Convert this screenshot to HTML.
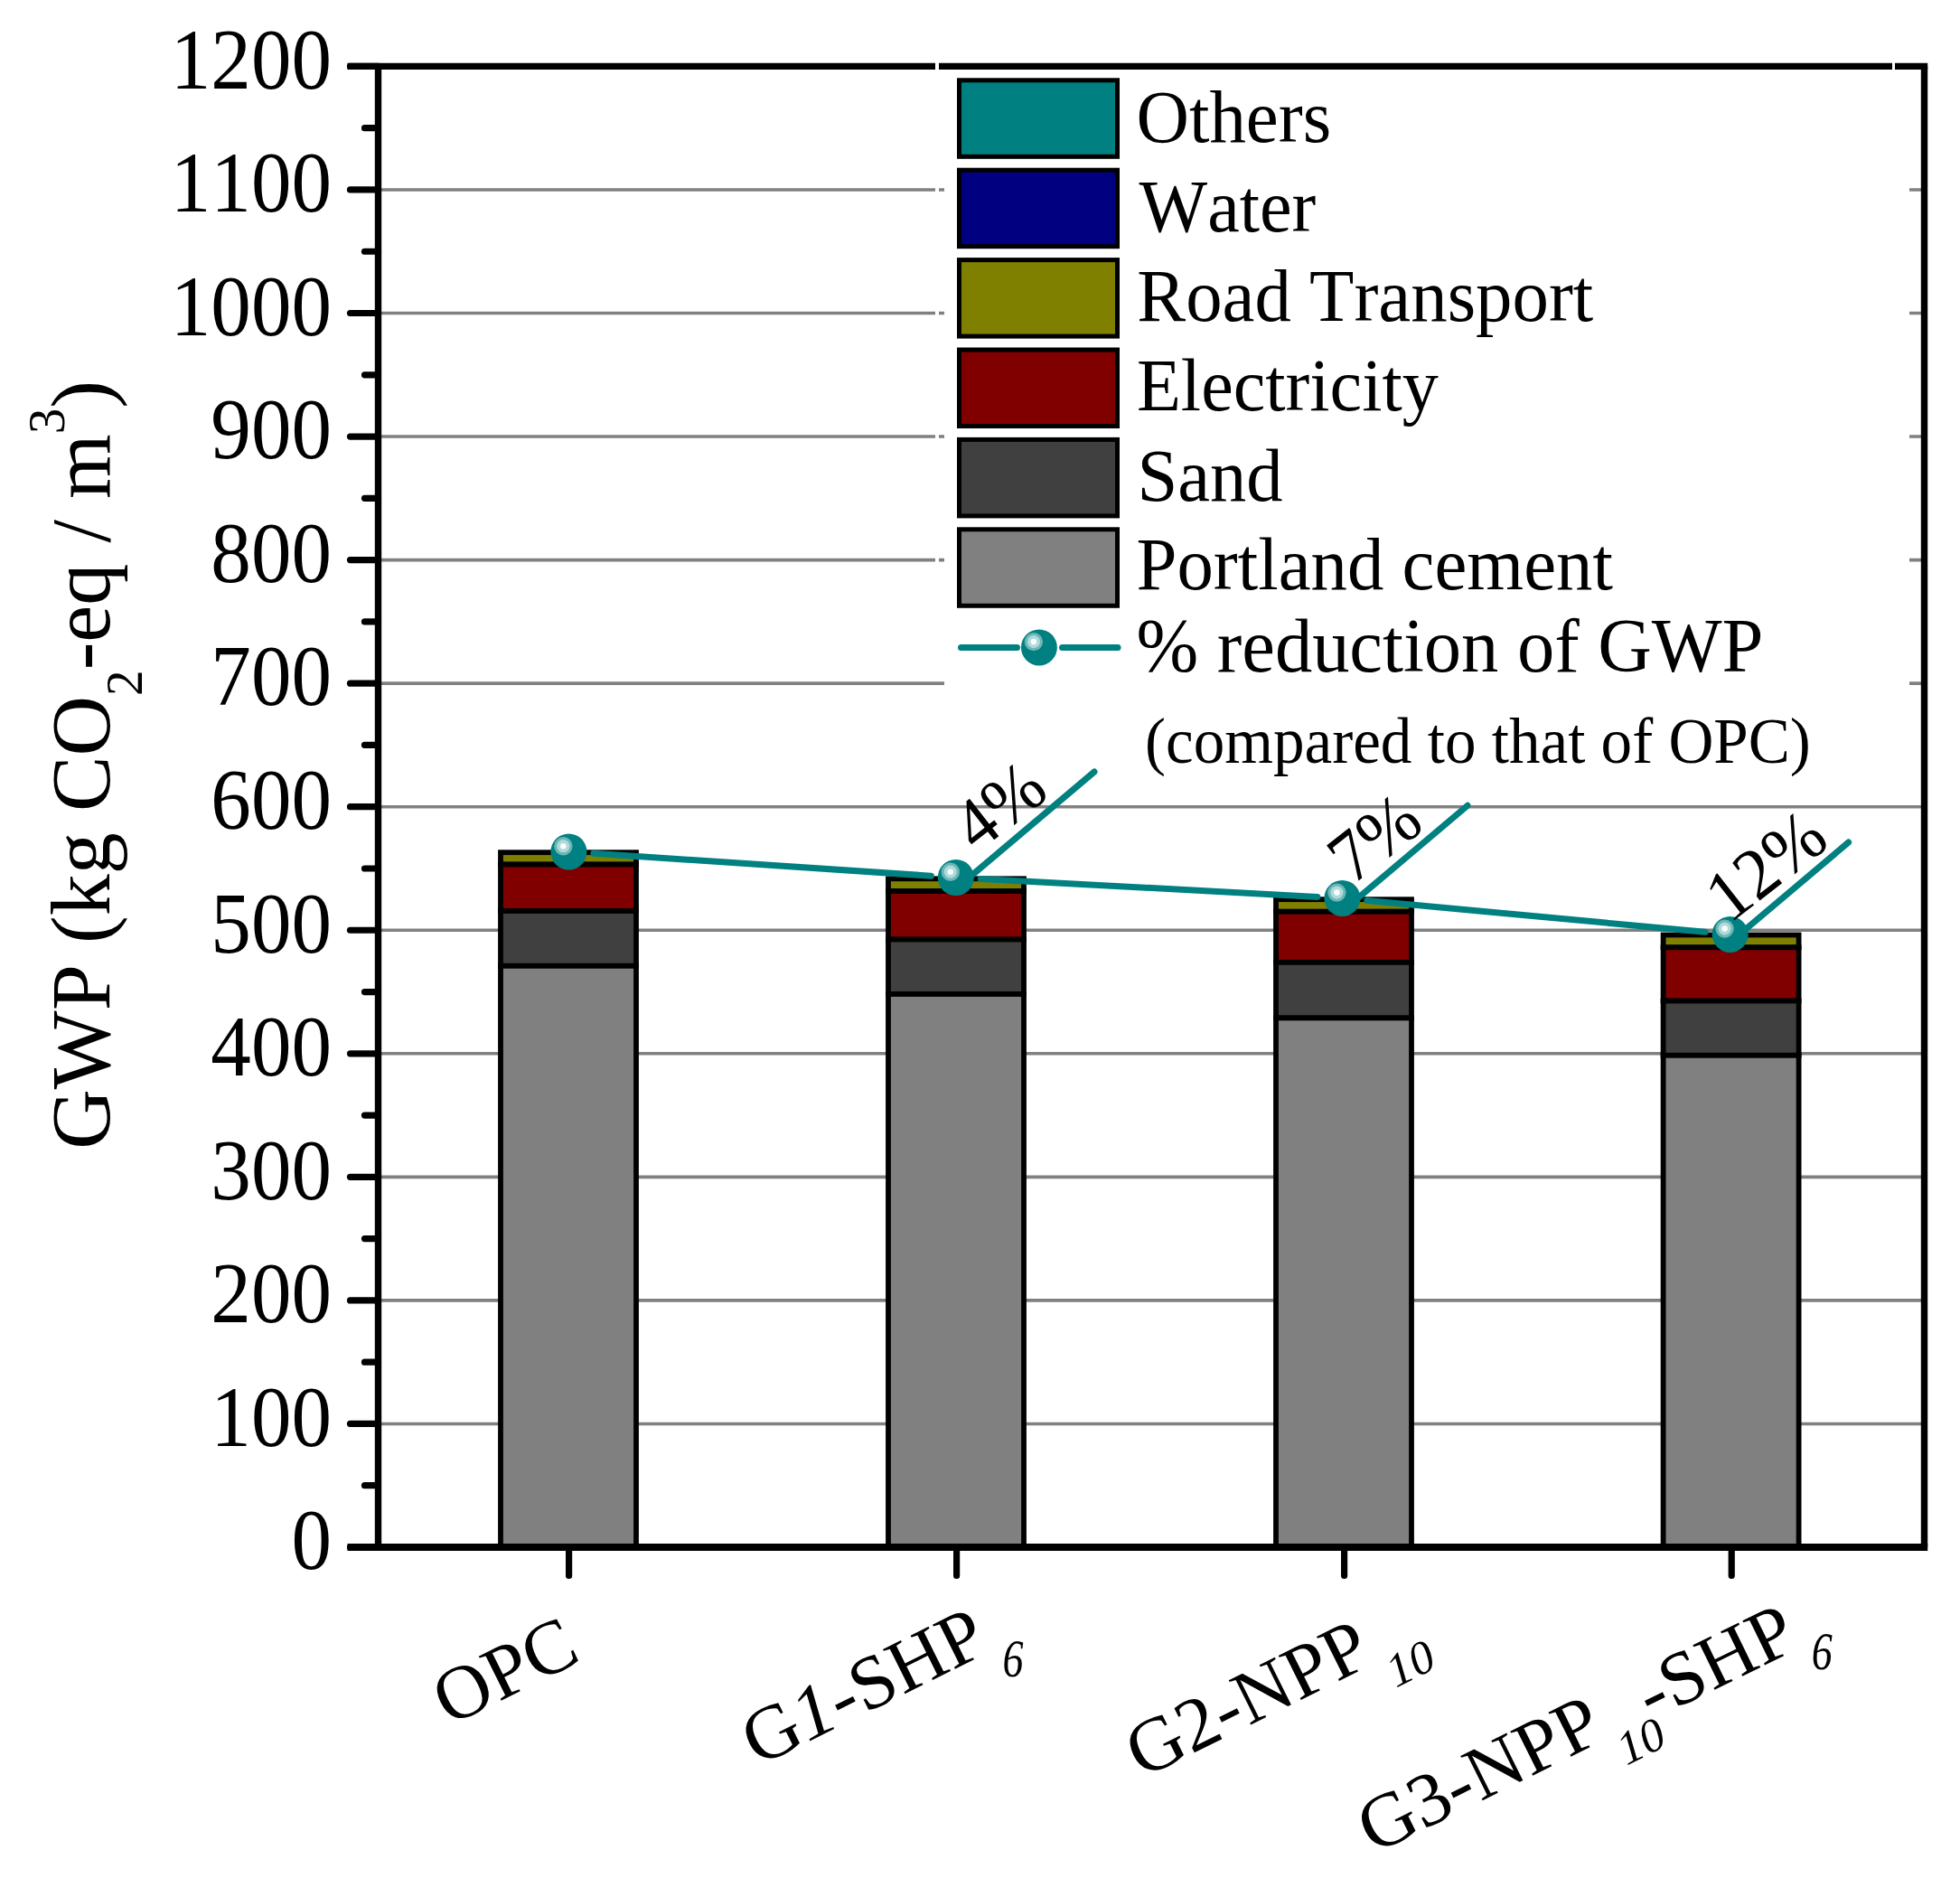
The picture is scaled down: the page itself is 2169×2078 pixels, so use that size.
<!DOCTYPE html>
<html lang="en"><head><meta charset="utf-8"><title>GWP chart</title>
<style>html,body{margin:0;padding:0;background:#fff}body{width:2169px;height:2078px;overflow:hidden}svg{display:block}text{font-family:"Liberation Serif",serif;fill:#000;font-kerning:none}</style></head><body>
<svg width="2169" height="2078" viewBox="0 0 2169 2078">
<rect x="0" y="0" width="2169" height="2078" fill="#fff"/>
<g stroke="#808080" stroke-width="3.6">
<line x1="418.5" y1="1575.45" x2="2129.5" y2="1575.45"/>
<line x1="418.5" y1="1438.90" x2="2129.5" y2="1438.90"/>
<line x1="418.5" y1="1302.35" x2="2129.5" y2="1302.35"/>
<line x1="418.5" y1="1165.80" x2="2129.5" y2="1165.80"/>
<line x1="418.5" y1="1029.25" x2="2129.5" y2="1029.25"/>
<line x1="418.5" y1="892.70" x2="2129.5" y2="892.70"/>
<line x1="418.5" y1="756.15" x2="2129.5" y2="756.15"/>
<line x1="418.5" y1="619.60" x2="2129.5" y2="619.60"/>
<line x1="418.5" y1="483.05" x2="2129.5" y2="483.05"/>
<line x1="418.5" y1="346.50" x2="2129.5" y2="346.50"/>
<line x1="418.5" y1="209.95" x2="2129.5" y2="209.95"/>
</g>
<rect x="1045" y="77" width="1068" height="725" fill="#fff"/>
<g stroke="#000" stroke-width="5.8" stroke-linejoin="miter">
<rect x="554.0" y="943.2" width="150.0" height="13.3" fill="#808000"/>
<rect x="554.0" y="956.5" width="150.0" height="51.5" fill="#800000"/>
<rect x="554.0" y="1008.0" width="150.0" height="60.8" fill="#404040"/>
<rect x="554.0" y="1068.8" width="150.0" height="643.2" fill="#808080"/>
<rect x="983.0" y="972.3" width="150.0" height="13.7" fill="#808000"/>
<rect x="983.0" y="986.0" width="150.0" height="53.5" fill="#800000"/>
<rect x="983.0" y="1039.5" width="150.0" height="60.5" fill="#404040"/>
<rect x="983.0" y="1100.0" width="150.0" height="612.0" fill="#808080"/>
<rect x="1412.0" y="995.2" width="150.0" height="13.5" fill="#808000"/>
<rect x="1412.0" y="1008.7" width="150.0" height="56.2" fill="#800000"/>
<rect x="1412.0" y="1064.9" width="150.0" height="61.5" fill="#404040"/>
<rect x="1412.0" y="1126.4" width="150.0" height="585.6" fill="#808080"/>
<rect x="1840.6" y="1034.5" width="150.0" height="13.8" fill="#808000"/>
<rect x="1840.6" y="1048.3" width="150.0" height="59.2" fill="#800000"/>
<rect x="1840.6" y="1107.5" width="150.0" height="60.3" fill="#404040"/>
<rect x="1840.6" y="1167.8" width="150.0" height="544.2" fill="#808080"/>
</g>
<g stroke="#000" stroke-width="7.4" fill="none" stroke-linecap="butt">
<line x1="384.5" y1="73.4" x2="1035" y2="73.4"/>
<line x1="1039" y1="73.4" x2="2094" y2="73.4"/>
<line x1="2097" y1="73.4" x2="2133.2" y2="73.4"/>
<line x1="384.5" y1="1712.0" x2="2133.2" y2="1712.0" stroke-width="8"/>
<line x1="418.5" y1="73.4" x2="418.5" y2="1712.0"/>
<line x1="2129.5" y1="73.4" x2="2129.5" y2="1712.0"/>
</g>
<g stroke="#000" stroke-width="7.2" stroke-linecap="round">
<line x1="387.5" y1="1712.00" x2="418.5" y2="1712.00"/>
<line x1="387.5" y1="1575.45" x2="418.5" y2="1575.45"/>
<line x1="387.5" y1="1438.90" x2="418.5" y2="1438.90"/>
<line x1="387.5" y1="1302.35" x2="418.5" y2="1302.35"/>
<line x1="387.5" y1="1165.80" x2="418.5" y2="1165.80"/>
<line x1="387.5" y1="1029.25" x2="418.5" y2="1029.25"/>
<line x1="387.5" y1="892.70" x2="418.5" y2="892.70"/>
<line x1="387.5" y1="756.15" x2="418.5" y2="756.15"/>
<line x1="387.5" y1="619.60" x2="418.5" y2="619.60"/>
<line x1="387.5" y1="483.05" x2="418.5" y2="483.05"/>
<line x1="387.5" y1="346.50" x2="418.5" y2="346.50"/>
<line x1="387.5" y1="209.95" x2="418.5" y2="209.95"/>
<line x1="387.5" y1="73.40" x2="418.5" y2="73.40"/>
<line x1="403.5" y1="1643.72" x2="418.5" y2="1643.72"/>
<line x1="403.5" y1="1507.17" x2="418.5" y2="1507.17"/>
<line x1="403.5" y1="1370.62" x2="418.5" y2="1370.62"/>
<line x1="403.5" y1="1234.08" x2="418.5" y2="1234.08"/>
<line x1="403.5" y1="1097.53" x2="418.5" y2="1097.53"/>
<line x1="403.5" y1="960.98" x2="418.5" y2="960.98"/>
<line x1="403.5" y1="824.43" x2="418.5" y2="824.43"/>
<line x1="403.5" y1="687.88" x2="418.5" y2="687.88"/>
<line x1="403.5" y1="551.33" x2="418.5" y2="551.33"/>
<line x1="403.5" y1="414.78" x2="418.5" y2="414.78"/>
<line x1="403.5" y1="278.23" x2="418.5" y2="278.23"/>
<line x1="403.5" y1="141.68" x2="418.5" y2="141.68"/>
<line x1="629.6" y1="1712.0" x2="629.6" y2="1743.5"/>
<line x1="1058.6" y1="1712.0" x2="1058.6" y2="1743.5"/>
<line x1="1487.6" y1="1712.0" x2="1487.6" y2="1743.5"/>
<line x1="1916.2" y1="1712.0" x2="1916.2" y2="1743.5"/>
</g>
<rect x="1035" y="150" width="4" height="520" fill="#fff"/>
<g font-size="94.2" text-anchor="end">
<text transform="translate(367.0,1736.2) scale(0.946,1)">0</text>
<text transform="translate(367.0,1599.7) scale(0.946,1)">100</text>
<text transform="translate(367.0,1463.1) scale(0.946,1)">200</text>
<text transform="translate(367.0,1326.5) scale(0.946,1)">300</text>
<text transform="translate(367.0,1190.0) scale(0.946,1)">400</text>
<text transform="translate(367.0,1053.5) scale(0.946,1)">500</text>
<text transform="translate(367.0,916.9) scale(0.946,1)">600</text>
<text transform="translate(367.0,780.4) scale(0.946,1)">700</text>
<text transform="translate(367.0,643.8) scale(0.946,1)">800</text>
<text transform="translate(367.0,507.2) scale(0.946,1)">900</text>
<text transform="translate(367.0,370.7) scale(0.946,1)">1000</text>
<text transform="translate(367.0,234.2) scale(0.946,1)">1100</text>
<text transform="translate(367.0,97.6) scale(0.946,1)">1200</text>
</g>
<text transform="translate(121.1,1271.8) rotate(-90) scale(0.987,1)" font-size="93.4">GWP (kg CO<tspan font-size="58" dy="36">2</tspan><tspan dy="-36">-eq / m</tspan><tspan font-size="58" dy="-50">3</tspan><tspan dy="50">)</tspan></text>
<g stroke="#000" stroke-width="5">
<rect x="1061.5" y="88.8" width="175" height="84.5" fill="#008080"/>
<rect x="1061.5" y="188.2" width="175" height="84.5" fill="#000080"/>
<rect x="1061.5" y="287.6" width="175" height="84.5" fill="#808000"/>
<rect x="1061.5" y="387.0" width="175" height="84.5" fill="#800000"/>
<rect x="1061.5" y="486.4" width="175" height="84.5" fill="#404040"/>
<rect x="1061.5" y="585.8" width="175" height="84.5" fill="#808080"/>
</g>
<text transform="translate(1257.5,156.9) scale(0.9748,1)" font-size="83.0">Others</text>
<text transform="translate(1260.5,256.3) scale(0.9660,1)" font-size="83.0">Water</text>
<text transform="translate(1258.3,355.2) scale(0.9739,1)" font-size="83.0">Road Transport</text>
<text transform="translate(1257.9,454.3) scale(0.9660,1)" font-size="83.0">Electricity</text>
<text transform="translate(1258.5,553.5) scale(0.9709,1)" font-size="83.0">Sand</text>
<text transform="translate(1257.5,652.4) scale(0.9739,1)" font-size="83.0">Portland cement</text>
<text transform="translate(1257.5,742.8) scale(0.9820,1)" font-size="84.0">% reduction of GWP</text>
<text transform="translate(1267.0,844.4) scale(0.9680,1)" font-size="71.4">(compared to that of OPC)</text>
<g stroke="#008080" stroke-width="7" stroke-linecap="round">
<line x1="1063.5" y1="716.5" x2="1125.5" y2="716.5"/>
<line x1="1175.5" y1="716.5" x2="1237" y2="716.5"/>
</g>
<circle cx="1149.9" cy="716.4" r="20" fill="#008080"/>
<circle cx="1143.9" cy="710.1" r="10.2" fill="#6cb6b6"/>
<circle cx="1143.9" cy="710.1" r="7.1" fill="#b0dada"/>
<circle cx="1143.9" cy="710.1" r="3.3" fill="#f8fcfc"/>
<g stroke="#008080" stroke-width="7" stroke-linecap="round">
<line x1="656.8" y1="944.3" x2="1030.4" y2="969.2"/>
<line x1="1085.3" y1="972.5" x2="1457.9" y2="992.4"/>
<line x1="1512.8" y1="996.5" x2="1887.2" y2="1031.3"/>
<line x1="1066.0" y1="976.5" x2="1211.0" y2="854.0"/>
<line x1="1494.0" y1="1001.2" x2="1624.0" y2="891.3"/>
<line x1="1923.0" y1="1035.6" x2="2045.6" y2="932.0"/>
</g>
<circle cx="629.4" cy="942.5" r="20" fill="#008080"/>
<circle cx="623.4" cy="936.2" r="10.2" fill="#6cb6b6"/>
<circle cx="623.4" cy="936.2" r="7.1" fill="#b0dada"/>
<circle cx="623.4" cy="936.2" r="3.3" fill="#f8fcfc"/>
<circle cx="1057.8" cy="971.0" r="20" fill="#008080"/>
<circle cx="1051.8" cy="964.7" r="10.2" fill="#6cb6b6"/>
<circle cx="1051.8" cy="964.7" r="7.1" fill="#b0dada"/>
<circle cx="1051.8" cy="964.7" r="3.3" fill="#f8fcfc"/>
<circle cx="1485.4" cy="993.9" r="20" fill="#008080"/>
<circle cx="1479.4" cy="987.6" r="10.2" fill="#6cb6b6"/>
<circle cx="1479.4" cy="987.6" r="7.1" fill="#b0dada"/>
<circle cx="1479.4" cy="987.6" r="3.3" fill="#f8fcfc"/>
<circle cx="1914.6" cy="1033.9" r="20" fill="#008080"/>
<circle cx="1908.6" cy="1027.6" r="10.2" fill="#6cb6b6"/>
<circle cx="1908.6" cy="1027.6" r="7.1" fill="#b0dada"/>
<circle cx="1908.6" cy="1027.6" r="3.3" fill="#f8fcfc"/>
<text transform="translate(1081.0,944.3) rotate(-38.0) scale(0.975,1)" font-size="80">4%</text>
<text transform="translate(1496.2,979.9) rotate(-38.0) scale(0.975,1)" font-size="80">7%</text>
<text transform="translate(1914.0,1022.4) rotate(-38.0) scale(0.975,1)" font-size="80">12%</text>
<g font-size="84">
<text transform="translate(497.0,1910.2) rotate(-26.4) scale(1.012,1)">OPC</text>
<text transform="translate(838.5,1955.0) rotate(-26.4) scale(1.012,1)">G<tspan font-style="italic">1</tspan>-SHP</text>
<text transform="translate(1263.5,1968.3) rotate(-26.4) scale(1.012,1)">G2-NPP <tspan font-style="italic" font-size="52" dx="-12.5" dy="35.0">10</tspan></text>
<text transform="translate(1520.0,2052.0) rotate(-26.4) scale(1.012,1)">G3-NPP <tspan font-style="italic" font-size="52" dx="-14.8" dy="36.5">10</tspan></text>
<text transform="translate(1827.2,1903.9) rotate(-26.0) scale(1.012,1)">-SHP</text>
</g>
<g font-size="59" font-style="italic">
<text transform="translate(1109.5,1855) scale(0.78,1)">6</text>
<text transform="translate(2004.8,1846.5) scale(0.78,1)">6</text>
</g>
</svg></body></html>
